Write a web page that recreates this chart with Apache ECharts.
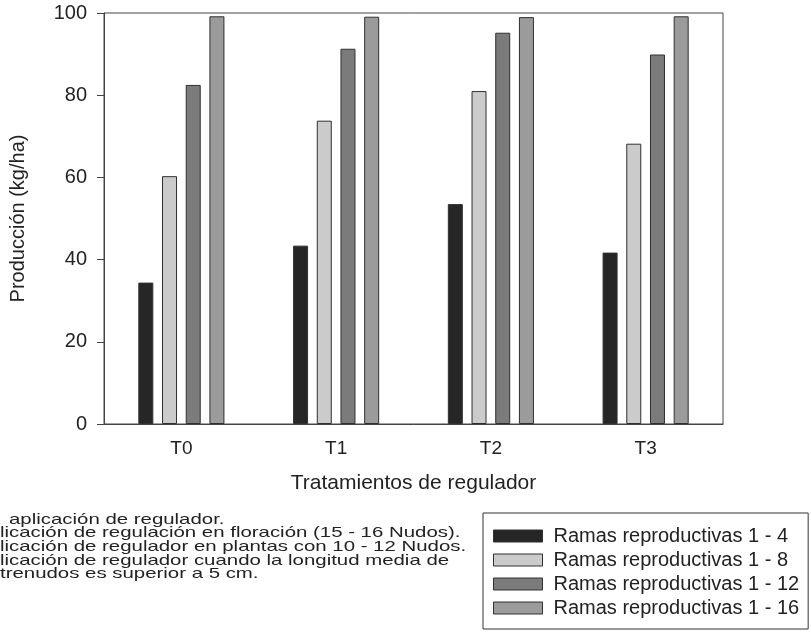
<!DOCTYPE html>
<html>
<head>
<meta charset="utf-8">
<script src="https://cdn.jsdelivr.net/npm/echarts@6/dist/echarts.min.js"></script>
<style>
  html, body { margin: 0; padding: 0; background: #fff; }
  #chart { width: 811px; height: 632px; }
</style>
</head>
<body>
<div id="chart"></div>
<script>
const categories = ['T0', 'T1', 'T2', 'T3']
const seriesNames = [
  'Ramas reproductivas 1 - 4',
  'Ramas reproductivas 1 - 8',
  'Ramas reproductivas 1 - 12',
  'Ramas reproductivas 1 - 16'
]
const ramas4 = [34.4, 43.4, 53.5, 41.7]
const ramas8 = [60.3, 73.8, 81.0, 68.2]
const ramas12 = [82.5, 91.3, 95.2, 89.9]
const ramas16 = [99.2, 99.1, 99.0, 99.2]
const yTicks = [0, 20, 40, 60, 80, 100]
const notes = [
  'aplicación de regulador.',
  'licación de regulación en floración (15 - 16 Nudos).',
  'licación de regulador en plantas con 10 - 12 Nudos.',
  'licación de regulador cuando la longitud media de',
  'trenudos es superior a 5 cm.'
]

const colors = ['#262626', '#cbcbcb', '#7b7b7b', '#9b9b9b']
const font = 'Liberation Sans, Arial, sans-serif'
const values = [ramas4, ramas8, ramas12, ramas16]

const chart = echarts.init(document.getElementById('chart'), null, { renderer: 'canvas' })

// bars
const series = values.map((data, i) => {
  return {
    name: seriesNames[i],
    type: 'bar',
    data: data,
    barWidth: 15,
    barGap: '58%',
    itemStyle: {
      color: colors[i],
      borderColor: '#303030',
      borderWidth: 1
    }
  }
})

// notes below the chart (the scan squeezes them vertically)
const noteTexts = notes.map((t, i) => {
  return {
    type: 'text',
    x: i === 0 ? 9 : 0,
    y: 512 + i * 13.7,
    scaleX: 1.36,
    style: {
      text: t,
      font: '15px ' + font,
      fill: '#222',
      textVerticalAlign: 'top'
    }
  }
})

chart.setOption({
  animation: false,
  textStyle: { fontFamily: font, color: '#222' },
  grid: {
    left: 104,
    right: 88,
    top: 13,
    bottom: 208,
    show: true,
    borderColor: '#444',
    borderWidth: 1
  },
  legend: {
    orient: 'vertical',
    left: 483,
    top: 513,
    padding: [13, 9, 11, 10],
    itemWidth: 49,
    itemHeight: 12,
    itemGap: 4,
    borderColor: '#333',
    borderWidth: 1,
    icon: 'rect',
    textStyle: { fontSize: 20, color: '#222', fontFamily: font, padding: [0, 0, 0, 6] },
    data: seriesNames.map((n, i) => ({
      name: n,
      itemStyle: { color: colors[i], borderColor: '#303030', borderWidth: 1 }
    }))
  },
  xAxis: {
    type: 'category',
    data: categories,
    name: 'Tratamientos de regulador',
    nameLocation: 'middle',
    nameGap: 49,
    nameTextStyle: { fontSize: 21, color: '#222', fontFamily: font },
    axisLine: { lineStyle: { color: '#444' } },
    axisTick: { show: false },
    axisLabel: { fontSize: 19, color: '#222', margin: 15 }
  },
  yAxis: {
    type: 'value',
    min: yTicks[0],
    max: yTicks[yTicks.length - 1],
    interval: yTicks[1] - yTicks[0],
    name: 'Producción (kg/ha)',
    nameLocation: 'middle',
    nameGap: 76,
    nameTextStyle: { fontSize: 20, color: '#222', fontFamily: font },
    axisLine: { show: true, lineStyle: { color: '#444' } },
    axisTick: { show: true, length: 7, lineStyle: { color: '#444' } },
    splitLine: { show: false },
    axisLabel: { fontSize: 20, color: '#222', margin: 17 }
  },
  graphic: noteTexts,
  series: series
})
</script>
</body>
</html>
